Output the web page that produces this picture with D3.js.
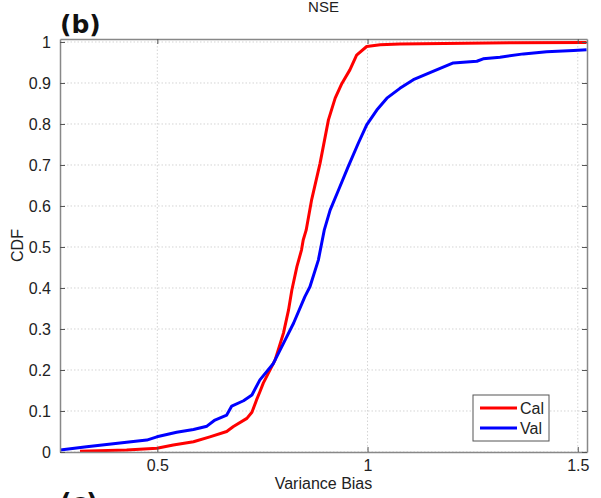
<!DOCTYPE html>
<html>
<head>
<meta charset="utf-8">
<script src="https://cdn.jsdelivr.net/npm/d3@7"></script>
<style>
	body { margin: 0; background: #fff; }
	svg text { font-family: "Liberation Sans", Arial, sans-serif; fill: #222; }
	svg text.panel { font-family: "DejaVu Sans", sans-serif; font-weight: bold; fill: #111; }
	.grid line { stroke: #d4d4d4; stroke-dasharray: 1.5,2; }
</style>
</head>
<body>
<div id="chart"></div>
<script>
// ----------------------------------------
// DATA

var seriesNames = ["Cal", "Val"];
var seriesColors = ["#ff0000", "#0000ff"];

// Cal: variance bias / cdf
var calX = [0.316, 0.427, 0.499, 0.538, 0.586, 0.625, 0.665, 0.681, 0.713, 0.725, 0.736, 0.744, 0.752, 0.780, 0.800, 0.812, 0.820, 0.832, 0.843, 0.847, 0.854, 0.867, 0.887, 0.907, 0.923, 0.939, 0.958, 0.974, 0.998, 1.030, 1.077, 1.346, 1.521];
var calY = [0.002, 0.005, 0.009, 0.017, 0.025, 0.037, 0.050, 0.062, 0.082, 0.097, 0.127, 0.147, 0.168, 0.224, 0.290, 0.346, 0.395, 0.452, 0.493, 0.517, 0.541, 0.615, 0.704, 0.810, 0.863, 0.899, 0.932, 0.968, 0.989, 0.993, 0.995, 0.998, 0.999];

// Val: variance bias / cdf
var valX = [0.269, 0.332, 0.427, 0.475, 0.499, 0.546, 0.586, 0.618, 0.637, 0.665, 0.677, 0.705, 0.725, 0.744, 0.776, 0.800, 0.824, 0.851, 0.863, 0.883, 0.897, 0.911, 0.931, 0.954, 0.978, 0.998, 1.022, 1.046, 1.077, 1.109, 1.157, 1.204, 1.260, 1.275, 1.315, 1.371, 1.426, 1.490, 1.521];
var valY = [0.005, 0.013, 0.024, 0.029, 0.037, 0.048, 0.055, 0.063, 0.078, 0.090, 0.112, 0.125, 0.139, 0.176, 0.216, 0.265, 0.314, 0.379, 0.403, 0.468, 0.541, 0.590, 0.639, 0.696, 0.753, 0.798, 0.834, 0.863, 0.887, 0.908, 0.929, 0.949, 0.953, 0.959, 0.963, 0.971, 0.976, 0.979, 0.981];

var xTicks = [0.5, 1, 1.5];
var yTicks = [0, 0.1, 0.2, 0.3, 0.4, 0.5, 0.6, 0.7, 0.8, 0.9, 1];

// ----------------------------------------
// SETUP

var width = 601;
var height = 498;
var plotLeft = 60, plotRight = 587, plotTop = 39, plotBottom = 452;

var svg = d3.select("#chart").append("svg")
	.attr("width", width)
	.attr("height", height);

var xScale = d3.scaleLinear().domain([0.2685, 1.522]).range([plotLeft, plotRight]);
var yScale = d3.scaleLinear().domain([0, 1.0073]).range([plotBottom, plotTop]);

// gridlines
var grid = svg.append("g").attr("class", "grid");
grid.selectAll(".gx").data(xTicks).enter().append("line")
	.attr("x1", function (d) { return xScale(d); })
	.attr("x2", function (d) { return xScale(d); })
	.attr("y1", plotTop).attr("y2", plotBottom);
grid.selectAll(".gy").data(yTicks).enter().append("line")
	.attr("y1", function (d) { return yScale(d); })
	.attr("y2", function (d) { return yScale(d); })
	.attr("x1", plotLeft).attr("x2", plotRight);

// ----------------------------------------
// CURVES

var pathGenerator = d3.line()
	.x(function (d) { return xScale(d[0]); })
	.y(function (d) { return yScale(d[1]); });

var series = [d3.zip(calX, calY), d3.zip(valX, valY)];

svg.append("defs").append("clipPath").attr("id", "clip")
	.append("rect").attr("x", plotLeft).attr("y", plotTop)
	.attr("width", plotRight - plotLeft).attr("height", plotBottom - plotTop);

series.forEach(function (s, i) {
	svg.append("path")
		.attr("clip-path", "url(#clip)")
		.attr("d", pathGenerator(s))
		.attr("fill", "none")
		.attr("stroke", seriesColors[i])
		.attr("stroke-width", 3)
		.attr("stroke-linejoin", "round");
});

// ----------------------------------------
// AXES (box with inward ticks)

function styleAxis(g) {
	g.select(".domain").attr("stroke", "#888").attr("stroke-width", 1.5);
	g.selectAll(".tick line").attr("stroke", "#555");
	g.selectAll("text").style("font-size", "16px").attr("fill", "#222");
}

svg.append("g")
	.attr("transform", "translate(0," + plotBottom + ")")
	.call(d3.axisBottom(xScale).tickValues(xTicks).tickSize(-5).tickSizeOuter(0).tickPadding(8).tickFormat(d3.format("")))
	.call(styleAxis);

svg.append("g")
	.attr("transform", "translate(0," + plotTop + ")")
	.call(d3.axisTop(xScale).tickValues(xTicks).tickSize(-5).tickSizeOuter(0).tickFormat(""))
	.call(styleAxis);

svg.append("g")
	.attr("transform", "translate(" + plotLeft + ",0)")
	.call(d3.axisLeft(yScale).tickValues(yTicks).tickSize(-5).tickSizeOuter(0).tickPadding(9).tickFormat(d3.format("")))
	.call(styleAxis);

svg.append("g")
	.attr("transform", "translate(" + plotRight + ",0)")
	.call(d3.axisRight(yScale).tickValues(yTicks).tickSize(-5).tickSizeOuter(0).tickFormat(""))
	.call(styleAxis);

// ----------------------------------------
// LABELS

svg.append("text")
	.attr("x", (plotLeft + plotRight) / 2).attr("y", 12)
	.attr("text-anchor", "middle")
	.style("font-size", "15px")
	.text("NSE");

svg.append("text")
	.attr("x", (plotLeft + plotRight) / 2).attr("y", 489)
	.attr("text-anchor", "middle")
	.style("font-size", "16px")
	.text("Variance Bias");

svg.append("text")
	.attr("transform", "translate(23," + ((plotTop + plotBottom) / 2) + ") rotate(-90)")
	.attr("text-anchor", "middle")
	.style("font-size", "16px")
	.text("CDF");

svg.append("text").attr("class", "panel")
	.attr("x", 60).attr("y", 33)
	.style("font-size", "25px")
	.text("(b)");

svg.append("text").attr("class", "panel")
	.attr("x", 60).attr("y", 511)
	.style("font-size", "25px")
	.text("(c)");

// ----------------------------------------
// LEGEND

var legend = svg.append("g").attr("transform", "translate(473,395)");
legend.append("rect")
	.attr("width", 76).attr("height", 46)
	.attr("fill", "#fff").attr("stroke", "#555");

seriesNames.forEach(function (name, i) {
	legend.append("line")
		.attr("x1", 7).attr("x2", 44)
		.attr("y1", 13 + i * 20).attr("y2", 13 + i * 20)
		.attr("stroke", seriesColors[i]).attr("stroke-width", 3);
	legend.append("text")
		.attr("x", 47).attr("y", 19 + i * 20)
		.style("font-size", "16px")
		.text(name);
});
</script>
</body>
</html>
